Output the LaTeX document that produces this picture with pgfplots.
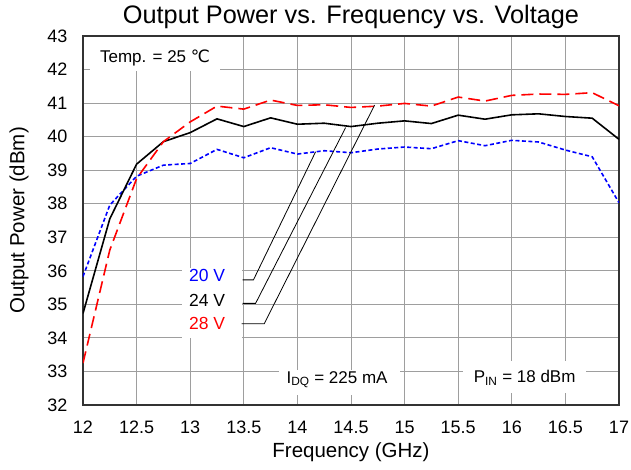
\documentclass[border=0pt]{standalone}
\usepackage{fontspec}
\setmainfont{Liberation Sans}
\newfontfamily\dejavu{DejaVu Sans}
\usepackage{pgfplots}
\pgfplotsset{compat=1.18}
\begin{document}
\begin{tikzpicture}
\begin{axis}[
    scale only axis,
    width=536pt, height=369pt,
    xmin=12, xmax=17,
    ymin=32, ymax=43,
    xtick={12,12.5,13,13.5,14,14.5,15,15.5,16,16.5,17},
    ytick={32,33,34,35,36,37,38,39,40,41,42,43},
    major tick length=0pt,
    /pgf/number format/assume math mode=true,
    tick label style={font=\fontsize{18}{20}\selectfont},
    xticklabel style={yshift=-15pt, inner sep=1pt},
    yticklabel style={xshift=-12pt},
    grid=major,
    grid style={line width=1pt, draw=black!38},
    axis line style={line width=1.5pt, draw=black!80},
    title={Output Power vs. Frequency vs. Voltage},
    title style={font=\fontsize{25.3}{28}\selectfont, yshift=-2pt},
    xlabel={Frequency (GHz)},
    ylabel={Output Power (dBm)},
    label style={font=\fontsize{20.5}{23}\selectfont},
    xlabel style={yshift=-7pt, inner sep=1pt},
    ylabel style={yshift=12pt},
]
\addplot[blue, line width=1.6pt, dash pattern=on 4pt off 2.5pt] coordinates {
    (12,35.83) (12.25,37.96) (12.5,38.82) (12.75,39.15) (13,39.20)
    (13.25,39.62) (13.5,39.37) (13.75,39.67) (14,39.48) (14.25,39.58)
    (14.5,39.52) (14.75,39.63) (15,39.69) (15.25,39.64) (15.5,39.88)
    (15.75,39.73) (16,39.89) (16.25,39.84) (16.5,39.60) (16.75,39.40) (17,38.03)
};
\addplot[black, line width=1.6pt] coordinates {
    (12,34.73) (12.25,37.55) (12.5,39.18) (12.75,39.85) (13,40.12)
    (13.25,40.53) (13.5,40.30) (13.75,40.56) (14,40.37) (14.25,40.40)
    (14.5,40.30) (14.75,40.40) (15,40.47) (15.25,40.39) (15.5,40.64)
    (15.75,40.52) (16,40.65) (16.25,40.68) (16.5,40.60) (16.75,40.55) (17,39.92)
};
\addplot[red, line width=1.6pt, dash pattern=on 12pt off 6pt] coordinates {
    (12,33.25) (12.25,36.62) (12.5,38.75) (12.75,39.85) (13,40.44)
    (13.25,40.91) (13.5,40.82) (13.75,41.09) (14,40.93) (14.25,40.95)
    (14.5,40.87) (14.75,40.91) (15,40.99) (15.25,40.91) (15.5,41.18)
    (15.75,41.06) (16,41.23) (16.25,41.27) (16.5,41.26) (16.75,41.31) (17,40.92)
};
% white boxes behind the annotations
\node[fill=white, inner sep=0pt, minimum width=130pt, minimum height=34pt] at (axis cs:12.672,42.45) {};
\node[fill=white, inner sep=0pt, minimum width=60pt, minimum height=70pt] at (axis cs:13.203,35.04) {};
\node[fill=white, inner sep=0pt, minimum width=121pt, minimum height=25pt] at (axis cs:14.393,32.67) {};
\node[fill=white, inner sep=0pt, minimum width=123pt, minimum height=32pt] at (axis cs:16.123,32.84) {};
% texts
\node[font=\fontsize{17}{19}\selectfont] at (axis cs:12.672,42.34) {Temp. = 25 {\dejavu ℃}};
\node[font=\fontsize{17.5}{19}\selectfont, text=blue] at (axis cs:13.157,35.85) {20 V};
\node[font=\fontsize{17.5}{19}\selectfont, text=black] at (axis cs:13.157,35.13) {24 V};
\node[font=\fontsize{17.5}{19}\selectfont, text=red] at (axis cs:13.157,34.42) {28 V};
\node[font=\fontsize{17}{19}\selectfont] at (axis cs:14.37,32.75) {I\textsubscript{DQ} = 225 mA};
\node[font=\fontsize{17}{19}\selectfont] at (axis cs:16.12,32.81) {P\textsubscript{IN} = 18 dBm};
% leader lines
\draw[black, line width=0.8pt] (axis cs:13.49,35.73) -- (axis cs:13.59,35.73) -- (axis cs:14.17,39.55);
\draw[black, line width=0.8pt] (axis cs:13.49,35.03) -- (axis cs:13.61,35.03) -- (axis cs:14.45,40.27);
\draw[black, line width=0.8pt] (axis cs:13.48,34.42) -- (axis cs:13.69,34.42) -- (axis cs:14.72,40.94);
\coordinate (sw) at (rel axis cs:0,0);
\coordinate (ne) at (rel axis cs:1,1);
\end{axis}
\pgfresetboundingbox
\path[use as bounding box] ([xshift=-83pt,yshift=-65pt]sw) rectangle ([xshift=12pt,yshift=36pt]ne);
\end{tikzpicture}
\end{document}
